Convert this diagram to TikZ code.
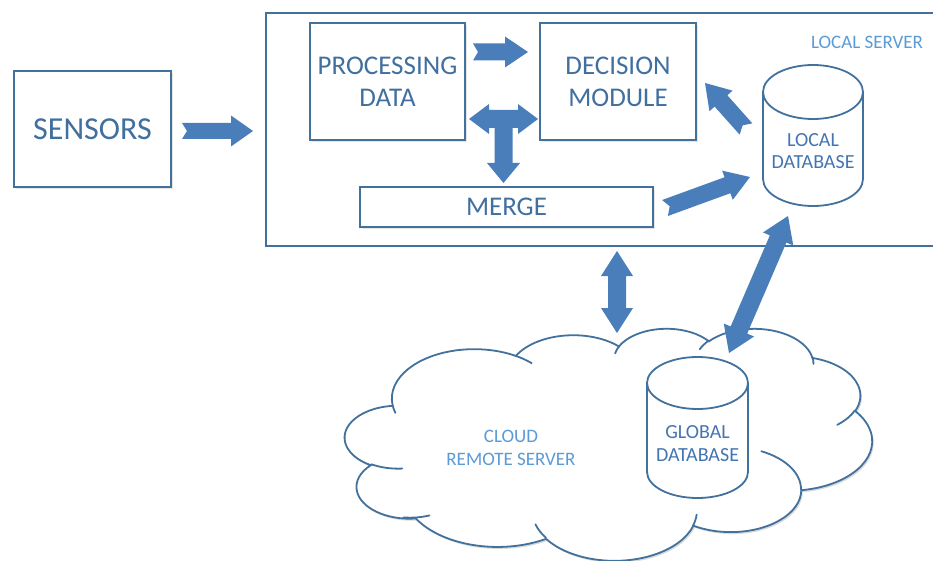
\documentclass[tikz,border=0pt]{standalone}
\usepackage{fontspec}
\setmainfont{Carlito}
\usetikzlibrary{calc,shadows}
\definecolor{boxline}{HTML}{41719C}
\definecolor{boxtext}{HTML}{41709F}
\definecolor{arrowfill}{HTML}{4A7EBB}
\definecolor{dbtext}{HTML}{4475B3}
\definecolor{lighttext}{HTML}{5B9BD5}
\newcommand\cldprep[5]{%
  \pgfmathsetmacro\ootA{atan2((#2)*sin(#4),(#3)*cos(#4))}%
  \pgfmathsetmacro\ootB{atan2((#2)*sin((#4)+(#5)),(#3)*cos((#4)+(#5)))}%
  \pgfmathsetmacro\ootB{\ootB<\ootA ? \ootB+360 : \ootB}%
  \expandafter\xdef\csname cld#1s\endcsname{\ootA}%
  \expandafter\xdef\csname cld#1e\endcsname{\ootB}%
}
\newcommand\notcharrow[6]{% from, to, shaft half width, head half width, head length, notch
  \fill[arrowfill] let \p1=(#1), \p2=(#2), \n1={atan2(\y2-\y1,\x2-\x1)}, \n2={veclen(\x2-\x1,\y2-\y1)-#5} in
    ($(\p1)+(\n1+90:#3)$) -- ($(\p1)+(\n1:#6)$) -- ($(\p1)+(\n1-90:#3)$)
    -- ($(\p1)+(\n1:\n2)+(\n1-90:#3)$) -- ($(\p1)+(\n1:\n2)+(\n1-90:#4)$)
    -- (\p2) -- ($(\p1)+(\n1:\n2)+(\n1+90:#4)$) -- ($(\p1)+(\n1:\n2)+(\n1+90:#3)$) -- cycle;
}
\newcommand\dblarrow[5]{% from, to, shaft half width, head half width, head length
  \fill[arrowfill] let \p1=(#1), \p2=(#2), \n1={atan2(\y2-\y1,\x2-\x1)}, \n2={veclen(\x2-\x1,\y2-\y1)-#5} in
    (\p1) -- ($(\p1)+(\n1:#5)+(\n1+90:#4)$) -- ($(\p1)+(\n1:#5)+(\n1+90:#3)$)
    -- ($(\p1)+(\n1:\n2)+(\n1+90:#3)$) -- ($(\p1)+(\n1:\n2)+(\n1+90:#4)$) -- (\p2)
    -- ($(\p1)+(\n1:\n2)+(\n1-90:#4)$) -- ($(\p1)+(\n1:\n2)+(\n1-90:#3)$)
    -- ($(\p1)+(\n1:#5)+(\n1-90:#3)$) -- ($(\p1)+(\n1:#5)+(\n1-90:#4)$) -- cycle;
}
\newcommand\cloudpath{(3.900,14.370)
 arc[start angle=\cldAs, end angle=\cldAe, x radius=6.753, y radius=9.190]
 arc[start angle=\cldBs, end angle=\cldBe, x radius=5.333, y radius=7.267]
 arc[start angle=\cldCs, end angle=\cldCe, x radius=4.365, y radius=5.945]
 arc[start angle=\cldDs, end angle=\cldDe, x radius=4.857, y radius=6.595]
 arc[start angle=\cldEs, end angle=\cldEe, x radius=5.333, y radius=7.273]
 arc[start angle=\cldFs, end angle=\cldFe, x radius=6.775, y radius=9.220]
 arc[start angle=\cldGs, end angle=\cldGe, x radius=5.785, y radius=7.867]
 arc[start angle=\cldHs, end angle=\cldHe, x radius=6.752, y radius=9.215]
 arc[start angle=\cldIs, end angle=\cldIe, x radius=7.720, y radius=10.543]
 arc[start angle=\cldJs, end angle=\cldJe, x radius=4.360, y radius=5.918]
 arc[start angle=\cldKs, end angle=\cldKe, x radius=4.345, y radius=5.945]
 -- cycle}
\tikzset{
  box/.style={draw=boxline, line width=1.8pt, fill=white, text=boxtext, align=center,
    inner sep=0pt, outer sep=0pt,
    drop shadow={shadow xshift=1.5pt, shadow yshift=-1.8pt, opacity=0.2}},
  bigtext/.style={font=\fontsize{27}{32}\selectfont},
  smalltext/.style={font=\fontsize{19}{22.5}\selectfont, align=center, inner sep=0pt},
  dbfont/.style={font=\fontsize{20}{22.5}\selectfont, align=center, inner sep=0pt},
  dbline/.style={draw=boxline, line width=1.8pt, fill=white},
  cloudline/.style={draw=boxline, line width=1.8pt, line cap=round},
  plain/.style={inner sep=0pt, outer sep=0pt},
}
\begin{document}
\begin{tikzpicture}[x=1pt, y=1pt]
\cldprep{A}{6.753}{9.190}{-190.4875}{123.7805}
\cldprep{B}{5.333}{7.267}{-144.1024}{89.9452}
\cldprep{C}{4.365}{5.945}{-145.8079}{99.7230}
\cldprep{D}{4.857}{6.595}{-130.9861}{117.2417}
\cldprep{E}{5.333}{7.273}{-78.7089}{109.0269}
\cldprep{F}{6.775}{9.220}{-46.2673}{130.2690}
\cldprep{G}{5.785}{7.867}{0.6250}{114.0333}
\cldprep{H}{6.752}{9.215}{22.4516}{115.1726}
\cldprep{I}{7.720}{10.543}{66.2426}{75.7110}
\cldprep{J}{4.360}{5.918}{-274.9421}{146.7356}
\cldprep{K}{4.345}{5.945}{-246.8285}{152.5189}
\cldprep{L}{4.345}{5.945}{86.7420}{26.4295}
\cldprep{M}{4.360}{5.918}{73.6105}{21.4043}
\cldprep{N}{6.752}{9.215}{137.6242}{20.6272}
\cldprep{O}{6.752}{9.215}{6.4533}{17.5107}
\cldprep{P}{5.785}{7.867}{-70.2924}{70.9174}
\cldprep{Q}{5.333}{7.273}{30.3180}{27.7515}
\cldprep{R}{4.857}{6.595}{-13.7443}{14.8589}
\cldprep{S}{4.857}{6.595}{-149.1815}{18.1954}
\cldprep{T}{4.365}{5.945}{-163.4943}{17.6864}
\cldprep{U}{6.753}{9.190}{-66.7070}{12.3194}
\cldprep{V}{6.753}{9.190}{157.6544}{11.8582}
\useasboundingbox (0,0) rectangle (933,-561);
\clip (0,0) rectangle (933,-561);

% local server frame (open on the right, cut by the picture edge)
\node[plain, minimum width=667pt, minimum height=233pt] (localserver) at (599.5,-129.5) {};
\draw[draw=boxline, line width=1.8pt] (localserver.north east) -- (localserver.north west)
  -- (localserver.south west) -- (localserver.south east);
\node[smalltext, text=lighttext] (lslabel) at (867,-42) {LOCAL SERVER};

% boxes
\node[box, minimum width=157pt, minimum height=116pt, font=\fontsize{32}{38}\selectfont] (sensors) at (92.5,-129) {SENSORS};
\node[box, bigtext, minimum width=155pt, minimum height=117pt] (proc) at (387.5,-81.5) {PROCESSING\\DATA};
\node[box, bigtext, minimum width=156pt, minimum height=117pt] (decision) at (618,-81.5) {DECISION\\MODULE};
\node[box, font=\fontsize{27}{32}\selectfont, minimum width=293pt, minimum height=40pt] (merge) at (506.5,-207) {MERGE};

% cloud
\begin{scope}[shift={(346.5,-330)}, xscale=12.199, yscale=-5.370]
  \fill[black, opacity=0.15] \cloudpath;
\end{scope}
\begin{scope}[shift={(345,-328)}, xscale=12.199, yscale=-5.370]
  \draw[cloudline, fill=white] \cloudpath;
  \draw[cloudline]
    (4.693,26.177) arc[start angle=\cldLs, end angle=\cldLe, x radius=4.345, y radius=5.945]
    (6.928,34.899) arc[start angle=\cldMs, end angle=\cldMe, x radius=4.360, y radius=5.918]
    (16.478,39.090) arc[start angle=\cldNs, end angle=\cldNe, x radius=6.752, y radius=9.215]
    (28.827,34.751) arc[start angle=\cldOs, end angle=\cldOe, x radius=6.752, y radius=9.215]
    (34.129,22.954) arc[start angle=\cldPs, end angle=\cldPe, x radius=5.785, y radius=7.867]
    (41.798,15.354) arc[start angle=\cldQs, end angle=\cldQe, x radius=5.333, y radius=7.273]
    (38.324,5.426) arc[start angle=\cldRs, end angle=\cldRe, x radius=4.857, y radius=6.595]
    (29.078,3.952) arc[start angle=\cldSs, end angle=\cldSe, x radius=4.857, y radius=6.595]
    (22.141,4.720) arc[start angle=\cldTs, end angle=\cldTe, x radius=4.365, y radius=5.945]
    (14.000,5.192) arc[start angle=\cldUs, end angle=\cldUe, x radius=6.753, y radius=9.190]
    (4.127,15.789) arc[start angle=\cldVs, end angle=\cldVe, x radius=6.753, y radius=9.190];
\end{scope}
\node[smalltext, text=lighttext] (cloudlabel) at (511,-448) {CLOUD\\REMOTE SERVER};

% local database
\node[plain, minimum width=100pt, minimum height=141pt] (localdb) at (813,-135.5) {};
\fill[black, opacity=0.15, shift={(1.5,-2)}] ([yshift=-27pt]localdb.north west) -- ([yshift=27pt]localdb.south west)
  arc[start angle=180, end angle=360, x radius=50, y radius=27]
  -- ([yshift=-27pt]localdb.north east) -- cycle;
\draw[dbline] ([yshift=-27pt]localdb.north west) -- ([yshift=27pt]localdb.south west)
  arc[start angle=180, end angle=360, x radius=50, y radius=27]
  -- ([yshift=-27pt]localdb.north east)
  arc[start angle=0, end angle=180, x radius=50, y radius=27] -- cycle;
\draw[dbline, fill=none] ([yshift=-27pt]localdb.north west) arc[start angle=180, end angle=360, x radius=50, y radius=27];
\node[dbfont, text=dbtext] (localdbtext) at ([yshift=-15.5pt]localdb.center) {LOCAL\\DATABASE};

% global database
\node[plain, minimum width=101pt, minimum height=141pt] (globaldb) at (697.5,-427.5) {};
\fill[black, opacity=0.15, shift={(1.5,-2)}] ([yshift=-26pt]globaldb.north west) -- ([yshift=26pt]globaldb.south west)
  arc[start angle=180, end angle=360, x radius=50.5, y radius=26]
  -- ([yshift=-26pt]globaldb.north east) -- cycle;
\draw[dbline] ([yshift=-26pt]globaldb.north west) -- ([yshift=26pt]globaldb.south west)
  arc[start angle=180, end angle=360, x radius=50.5, y radius=26]
  -- ([yshift=-26pt]globaldb.north east)
  arc[start angle=0, end angle=180, x radius=50.5, y radius=26] -- cycle;
\draw[dbline, fill=none] ([yshift=-26pt]globaldb.north west) arc[start angle=180, end angle=360, x radius=50.5, y radius=26];
\node[dbfont, text=dbtext] (globaldbtext) at ([yshift=-16pt]globaldb.center) {GLOBAL\\DATABASE};

% block arrows
\coordinate (s1) at (182,-131); \coordinate (e1) at (253,-131);
\coordinate (s2) at (473,-52);  \coordinate (e2) at (528,-52);
\coordinate (s3) at (746,-129); \coordinate (e3) at (705,-83);
\coordinate (s4) at (665,-208); \coordinate (e4) at (750,-177);
\coordinate (s5) at (617,-251); \coordinate (e5) at (617,-333);
\coordinate (s6) at (788,-216); \coordinate (e6) at (729,-353);
\coordinate (tc) at (503.5,-119);
\notcharrow{s1}{e1}{8}{15.5}{22}{5}
\notcharrow{s2}{e2}{8.5}{15.5}{23}{5}
\notcharrow{s3}{e3}{8.5}{15.5}{24}{5}
\notcharrow{s4}{e4}{8.5}{15.5}{24}{5}
\dblarrow{s5}{e5}{9}{16}{25}
\dblarrow{s6}{e6}{9}{16.5}{25}
\fill[arrowfill, shift={(tc)}] (-34.5,0) -- (-14.5,15) -- (-14.5,9) -- (14.5,9) -- (14.5,15) -- (34.5,0)
  -- (14.5,-15) -- (14.5,-9) -- (9,-9) -- (9,-44) -- (16.5,-44) -- (0,-64) -- (-16.5,-44)
  -- (-9,-44) -- (-9,-9) -- (-14.5,-9) -- (-14.5,-15) -- cycle;
\end{tikzpicture}
\end{document}
